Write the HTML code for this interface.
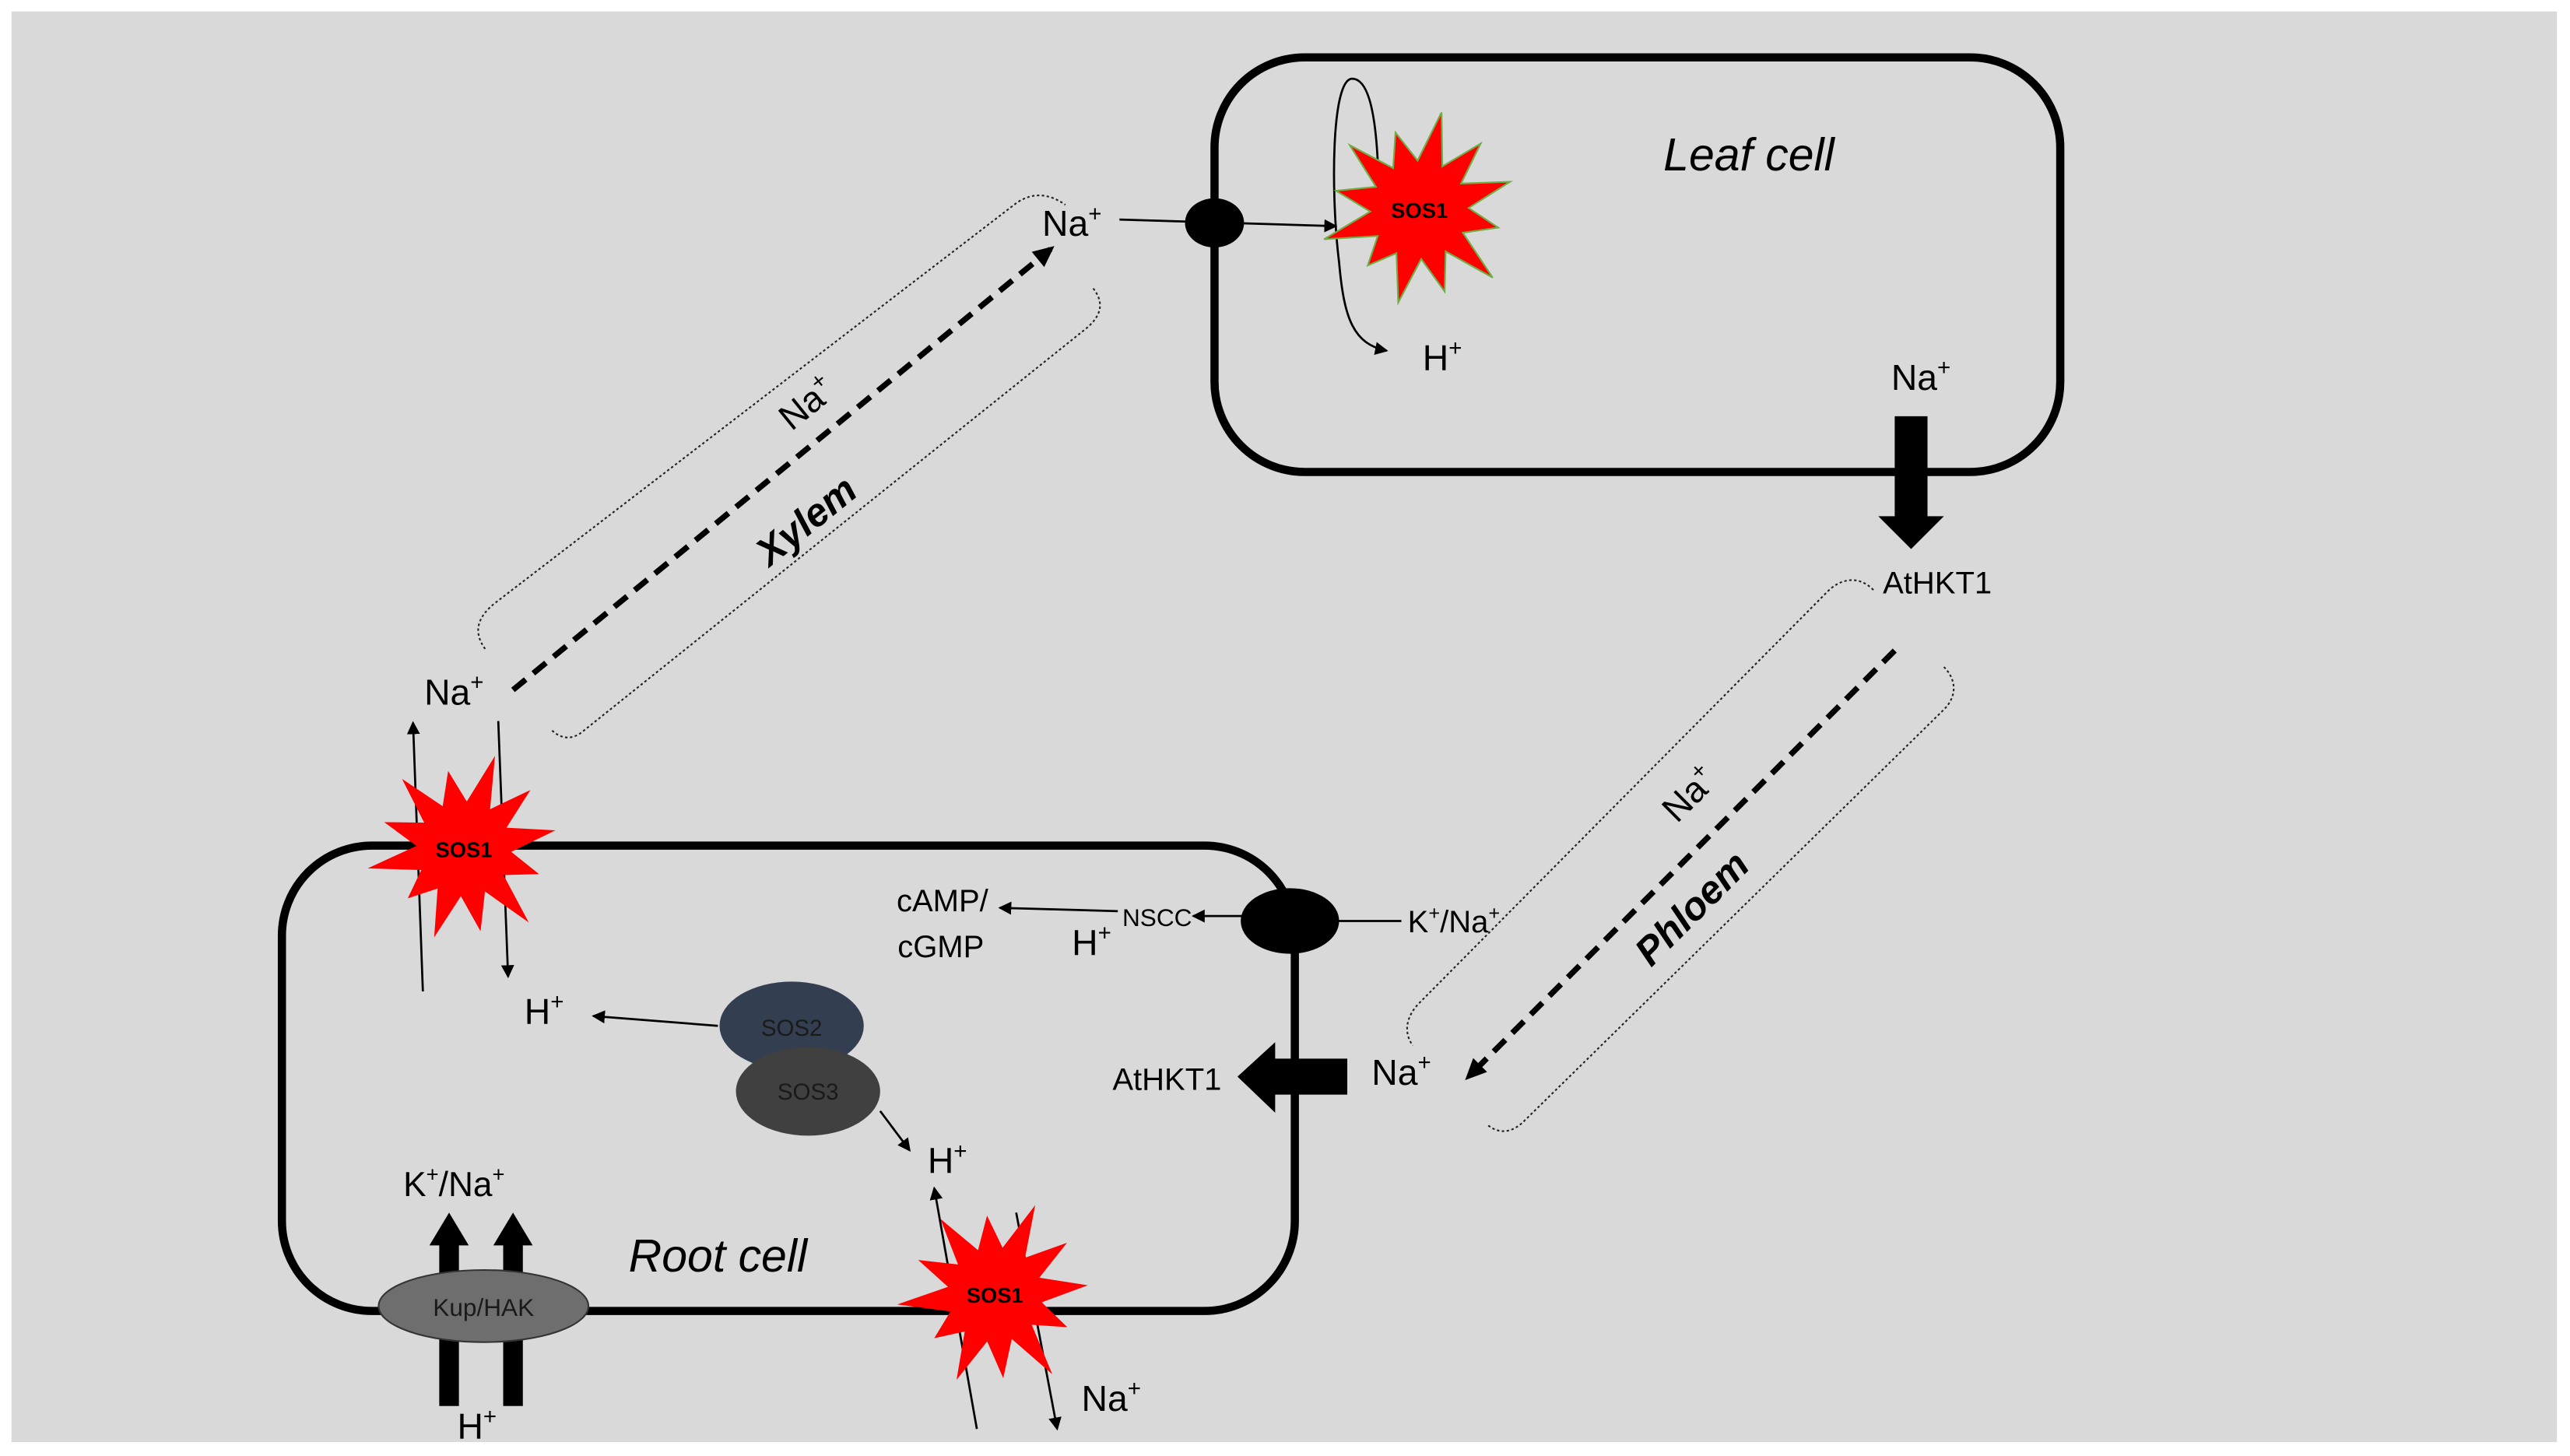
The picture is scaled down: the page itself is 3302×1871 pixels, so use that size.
<!DOCTYPE html>
<html><head><meta charset="utf-8"><style>
html,body{margin:0;padding:0;background:#fff;}
svg{display:block;}
text{font-family:"Liberation Sans",sans-serif;fill:#000;}
</style></head><body>
<svg id="root" width="3302" height="1871" viewBox="0 0 1568 888.5" preserveAspectRatio="none" xmlns="http://www.w3.org/2000/svg">
<defs>
<marker id="ah" markerWidth="8" markerHeight="8" refX="7" refY="4" orient="auto" markerUnits="userSpaceOnUse"><path d="M0,0 L8,4 L0,8 z" fill="#000"/></marker>
<marker id="ahb" markerWidth="14" markerHeight="14" refX="10" refY="7" orient="auto" markerUnits="userSpaceOnUse"><path d="M0,1 L13,7 L0,13 z" fill="#000"/></marker>
</defs>
<rect x="0" y="0" width="1568" height="888.5" fill="#fff"/>
<rect x="7" y="7" width="1553" height="873" fill="#d9d9d9"/>

<rect x="741" y="35" width="516" height="253" rx="55" fill="none" stroke="#000" stroke-width="5"/>
<text x="1067" y="104" font-size="28" font-style="italic" text-anchor="middle">Leaf cell</text>
<rect x="172" y="516" width="618" height="284" rx="55" fill="none" stroke="#000" stroke-width="5"/>
<text x="438" y="776" font-size="28" font-style="italic" text-anchor="middle">Root cell</text>

<path d="M841,110 C840,70 835,48 825,48 C812,48 812,120 817,160 C820,195 826,210 846,214" fill="none" stroke="#000" stroke-width="1.3" marker-end="url(#ah)"/>
<text x="880" y="226" font-size="22" text-anchor="middle">H<tspan font-size="14" dy="-9">+</tspan></text>

<line x1="683" y1="134" x2="815" y2="138" stroke="#000" stroke-width="1.3" marker-end="url(#ah)"/>
<ellipse cx="741" cy="136" rx="18" ry="15" fill="#000"/>
<text x="654" y="144" font-size="22" text-anchor="middle">Na<tspan font-size="14" dy="-9">+</tspan></text>

<text x="1172" y="238" font-size="22" text-anchor="middle">Na<tspan font-size="14" dy="-9">+</tspan></text>
<path d="M1156,254 H1176 V315 H1186 L1166,335 L1146,315 H1156 Z" fill="#000"/>
<text x="1182" y="362" font-size="19" text-anchor="middle">AtHKT1</text>

<path d="M296,396 C288,385 292,376 302,368 L620,124 C630,117 640,118 650,125" fill="none" stroke="#222" stroke-width="1" stroke-dasharray="1.5,1.5"/>
<path d="M667,176 C674,185 672,193 662,201 L356,446 C349,452 342,451 336,445" fill="none" stroke="#222" stroke-width="1" stroke-dasharray="1.5,1.5"/>
<line x1="313" y1="421" x2="641" y2="152" stroke="#000" stroke-width="3.5" stroke-dasharray="10,6" marker-end="url(#ahb)"/>
<text transform="translate(497,252) rotate(-39)" font-size="22" text-anchor="middle">Na<tspan font-size="14" dy="-9">+</tspan></text>
<text transform="translate(497,324) rotate(-39)" font-size="24" font-weight="bold" font-style="italic" text-anchor="middle">Xylem</text>

<path d="M1143,360 C1135,352 1125,352 1116,360 L866,612 C858,620 856,630 862,638" fill="none" stroke="#222" stroke-width="1" stroke-dasharray="1.5,1.5"/>
<path d="M1186,407 C1194,415 1194,425 1186,433 L930,684 C922,692 914,692 907,686" fill="none" stroke="#222" stroke-width="1" stroke-dasharray="1.5,1.5"/>
<line x1="1156" y1="397" x2="896" y2="657" stroke="#000" stroke-width="3.5" stroke-dasharray="10,6" marker-end="url(#ahb)"/>
<text transform="translate(1036,490) rotate(-45)" font-size="22" text-anchor="middle">Na<tspan font-size="14" dy="-9">+</tspan></text>
<text transform="translate(1038,560) rotate(-45)" font-size="24" font-weight="bold" font-style="italic" text-anchor="middle">Phloem</text>

<line x1="855" y1="562" x2="815" y2="562" stroke="#000" stroke-width="1.3"/>
<line x1="760" y1="559" x2="728" y2="559" stroke="#000" stroke-width="1.3" marker-end="url(#ah)"/>
<ellipse cx="787" cy="562" rx="30" ry="20" fill="#000"/>
<text x="887" y="569" font-size="19" text-anchor="middle">K<tspan font-size="12" dy="-8">+</tspan><tspan dy="8">/Na</tspan><tspan font-size="12" dy="-8">+</tspan></text>
<text x="706" y="565" font-size="15" text-anchor="middle">NSCC</text>
<line x1="682" y1="556" x2="610" y2="554" stroke="#000" stroke-width="1.3" marker-end="url(#ah)"/>
<text x="575" y="556" font-size="19" text-anchor="middle">cAMP/</text>
<text x="574" y="584" font-size="19" text-anchor="middle">cGMP</text>
<text x="666" y="583" font-size="22" text-anchor="middle">H<tspan font-size="14" dy="-9">+</tspan></text>

<path d="M822,646 V668 H778 V679 L755,657 L778,636 V646 Z" fill="#000"/>
<text x="712" y="665" font-size="19" text-anchor="middle">AtHKT1</text>
<text x="855" y="662" font-size="22" text-anchor="middle">Na<tspan font-size="14" dy="-9">+</tspan></text>

<ellipse cx="483" cy="626" rx="44" ry="27" fill="#333f50"/>
<ellipse cx="493" cy="666" rx="44" ry="27" fill="#404040"/>
<text x="483" y="632" font-size="14" text-anchor="middle" style="fill:#1a1a1a">SOS2</text>
<text x="493" y="671" font-size="14" text-anchor="middle" style="fill:#1a1a1a">SOS3</text>
<line x1="438" y1="626" x2="362" y2="620" stroke="#000" stroke-width="1.3" marker-end="url(#ah)"/>
<text x="332" y="625" font-size="22" text-anchor="middle">H<tspan font-size="14" dy="-9">+</tspan></text>
<line x1="537" y1="678" x2="555" y2="702" stroke="#000" stroke-width="1.3" marker-end="url(#ah)"/>
<text x="578" y="716" font-size="22" text-anchor="middle">H<tspan font-size="14" dy="-9">+</tspan></text>

<line x1="258" y1="605" x2="252" y2="441" stroke="#000" stroke-width="1.3" marker-end="url(#ah)"/>
<line x1="304" y1="440" x2="310" y2="596" stroke="#000" stroke-width="1.3" marker-end="url(#ah)"/>
<text x="277" y="430" font-size="22" text-anchor="middle">Na<tspan font-size="14" dy="-9">+</tspan></text>

<line x1="596" y1="872" x2="570" y2="725" stroke="#000" stroke-width="1.3" marker-end="url(#ah)"/>
<line x1="620" y1="740" x2="645" y2="872" stroke="#000" stroke-width="1.3" marker-end="url(#ah)"/>
<text x="678" y="861" font-size="22" text-anchor="middle">Na<tspan font-size="14" dy="-9">+</tspan></text>

<path d="M268,858 V760 H262 L274,740 L286,760 H280 V858 Z" fill="#000"/>
<path d="M307,858 V760 H301 L313,740 L325,760 H319 V858 Z" fill="#000"/>
<ellipse cx="295" cy="797" rx="64" ry="22" fill="#6e6e6e" stroke="#333" stroke-width="1"/>
<text x="295" y="803" font-size="15" text-anchor="middle" style="fill:#1a1a1a">Kup/HAK</text>
<text x="277" y="730" font-size="21" text-anchor="middle">K<tspan font-size="13" dy="-9">+</tspan><tspan dy="9">/Na</tspan><tspan font-size="13" dy="-9">+</tspan></text>
<text x="291" y="878" font-size="22" text-anchor="middle">H<tspan font-size="14" dy="-9">+</tspan></text>
<g id="stars"></g>
</svg>
<script>
(function(){
  var g=document.getElementById('stars');
  var ns='http://www.w3.org/2000/svg';
  function star(cx,cy,R,r,rot,stroke,label){
    var pts=[];var n=12;
    var vary=[1,0.85,1.05,0.9,1,0.8,1.05,0.9,1,0.85,1.05,0.95];
    for(var i=0;i<2*n;i++){
      var a=rot+Math.PI*i/n;
      var rad=(i%2==0)?R*vary[(i/2)%12]:r;
      pts.push((cx+rad*Math.cos(a)).toFixed(1)+','+(cy+rad*Math.sin(a)).toFixed(1));
    }
    var p=document.createElementNS(ns,'polygon');
    p.setAttribute('points',pts.join(' '));
    p.setAttribute('fill','#ff0000');
    if(stroke){p.setAttribute('stroke',stroke);p.setAttribute('stroke-width','1');}
    g.appendChild(p);
    var t=document.createElementNS(ns,'text');
    t.setAttribute('x',cx);t.setAttribute('y',cy+5);
    t.setAttribute('font-size','13');t.setAttribute('font-weight','bold');
    t.setAttribute('text-anchor','middle');
    t.textContent=label;g.appendChild(t);
  }
  star(866,128,58,30,-0.3,'#70ad47','SOS1');
  star(283,518,57,29,-0.2,null,'SOS1');
  star(607,790,57,29,-0.1,null,'SOS1');
})();
</script>
</body></html>
